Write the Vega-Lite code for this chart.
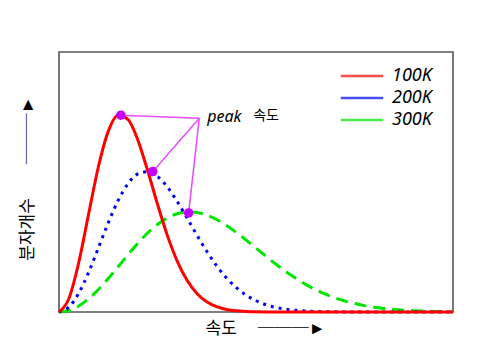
{
  "$schema": "https://vega.github.io/schema/vega-lite/v6.json",
  "width": 394,
  "height": 260,
  "autosize": "none",
  "padding": {"left": 59, "top": 52, "right": 47, "bottom": 45},
  "background": "white",
  "config": {
    "view": {"stroke": "#555555", "strokeWidth": 1.6},
    "axis": {"grid": false, "ticks": false, "labels": false, "domain": false,
             "titleFont": "Noto Sans CJK KR", "titleFontWeight": "normal", "titleFontSize": 17, "titleColor": "#000000"}
  },
  "datasets": {
    "curves": [
      {"T":"100K","v":0,"n":0},{"T":"100K","v":0.25,"n":0.0511},{"T":"100K","v":0.5,"n":0.1893},{"T":"100K","v":0.75,"n":0.3753},
      {"T":"100K","v":1,"n":0.5586},{"T":"100K","v":1.25,"n":0.6948},{"T":"100K","v":1.5,"n":0.757},{"T":"100K","v":1.75,"n":0.7409},
      {"T":"100K","v":2,"n":0.6617},{"T":"100K","v":2.25,"n":0.5441},{"T":"100K","v":2.5,"n":0.4149},{"T":"100K","v":2.75,"n":0.2947},
      {"T":"100K","v":3,"n":0.1958},{"T":"100K","v":3.25,"n":0.1219},{"T":"100K","v":3.5,"n":0.0713},{"T":"100K","v":3.75,"n":0.0392},
      {"T":"100K","v":4,"n":0.0203},{"T":"100K","v":4.25,"n":0.0099},{"T":"100K","v":4.5,"n":0.0046},{"T":"100K","v":4.75,"n":0.002},
      {"T":"100K","v":5,"n":0.0008},{"T":"100K","v":5.5,"n":0.0002},{"T":"100K","v":6,"n":0},{"T":"100K","v":10,"n":0},
      {"T":"200K","v":0,"n":0},{"T":"200K","v":0.25,"n":0.0187},{"T":"200K","v":0.5,"n":0.072},{"T":"200K","v":0.75,"n":0.1519},
      {"T":"200K","v":1,"n":0.2467},{"T":"200K","v":1.25,"n":0.3431},{"T":"200K","v":1.5,"n":0.4287},{"T":"200K","v":1.75,"n":0.4933},
      {"T":"200K","v":2,"n":0.5309},{"T":"200K","v":2.25,"n":0.5394},{"T":"200K","v":2.5,"n":0.5211},{"T":"200K","v":2.75,"n":0.4808},
      {"T":"200K","v":3,"n":0.4251},{"T":"200K","v":3.25,"n":0.3613},{"T":"200K","v":3.5,"n":0.2957},{"T":"200K","v":3.75,"n":0.2334},
      {"T":"200K","v":4,"n":0.1779},{"T":"200K","v":4.25,"n":0.1312},{"T":"200K","v":4.5,"n":0.0936},{"T":"200K","v":4.75,"n":0.0647},
      {"T":"200K","v":5,"n":0.0433},{"T":"200K","v":5.25,"n":0.0281},{"T":"200K","v":5.5,"n":0.0177},{"T":"200K","v":5.75,"n":0.0108},
      {"T":"200K","v":6,"n":0.0064},{"T":"200K","v":6.25,"n":0.0037},{"T":"200K","v":6.5,"n":0.0021},{"T":"200K","v":6.75,"n":0.0011},
      {"T":"200K","v":7,"n":0.0006},{"T":"200K","v":7.5,"n":0.0001},{"T":"200K","v":8,"n":0},{"T":"200K","v":10,"n":0},
      {"T":"300K","v":0,"n":0},{"T":"300K","v":0.25,"n":0.0059},{"T":"300K","v":0.5,"n":0.0232},{"T":"300K","v":0.75,"n":0.0508},
      {"T":"300K","v":1,"n":0.0867},{"T":"300K","v":1.25,"n":0.1287},{"T":"300K","v":1.5,"n":0.1742},{"T":"300K","v":1.75,"n":0.2203},
      {"T":"300K","v":2,"n":0.2642},{"T":"300K","v":2.25,"n":0.3037},{"T":"300K","v":2.5,"n":0.3366},{"T":"300K","v":2.75,"n":0.3616},
      {"T":"300K","v":3,"n":0.3777},{"T":"300K","v":3.25,"n":0.3846},{"T":"300K","v":3.5,"n":0.3828},{"T":"300K","v":3.75,"n":0.3728},
      {"T":"300K","v":4,"n":0.3558},{"T":"300K","v":4.25,"n":0.3331},{"T":"300K","v":4.5,"n":0.3062},{"T":"300K","v":4.75,"n":0.2766},
      {"T":"300K","v":5,"n":0.2457},{"T":"300K","v":5.25,"n":0.2147},{"T":"300K","v":5.5,"n":0.1846},{"T":"300K","v":5.75,"n":0.1564},
      {"T":"300K","v":6,"n":0.1304},{"T":"300K","v":6.25,"n":0.1072},{"T":"300K","v":6.5,"n":0.0868},{"T":"300K","v":6.75,"n":0.0693},
      {"T":"300K","v":7,"n":0.0546},{"T":"300K","v":7.25,"n":0.0424},{"T":"300K","v":7.5,"n":0.0325},{"T":"300K","v":7.75,"n":0.0245},
      {"T":"300K","v":8,"n":0.0183},{"T":"300K","v":8.25,"n":0.0135},{"T":"300K","v":8.5,"n":0.0098},{"T":"300K","v":8.75,"n":0.007},
      {"T":"300K","v":9,"n":0.0049},{"T":"300K","v":9.25,"n":0.0035},{"T":"300K","v":9.5,"n":0.0024},{"T":"300K","v":9.75,"n":0.0016},
      {"T":"300K","v":10,"n":0.0011}
    ]
  },
  "encoding": {
    "x": {"field": "v", "type": "quantitative", "scale": {"domain": [0, 10], "nice": false, "zero": false},
          "axis": {"title": "속도　 ───►", "titlePadding": 8, "titleX": 206}},
    "y": {"field": "n", "type": "quantitative", "scale": {"domain": [0, 1], "nice": false},
          "axis": {"title": "분자개수　　───►", "titlePadding": 23, "titleY": 126}}
  },
  "layer": [
    {
      "data": {"name": "curves"},
      "transform": [{"filter": "datum.T === '300K'"}],
      "mark": {"type": "line", "interpolate": "monotone", "strokeWidth": 3, "clip": false, "strokeDash": [12, 7]},
      "encoding": {
        "color": {"field": "T", "type": "nominal",
                  "scale": {"domain": ["100K", "200K", "300K"], "range": ["#ff0000", "#0000ff", "#00e600"]},
                  "legend": {"title": null, "orient": "none", "legendX": 293, "legendY": 14,
                             "symbolType": "M-2.5,0L2.5,0", "symbolSize": 289, "symbolStrokeWidth": 2.5, "symbolOpacity": 0.7,
                             "labelFont": "Noto Sans", "labelFontStyle": "italic", "labelFontSize": 18, "labelColor": "#000000",
                             "labelOffset": 20, "rowPadding": 3}}
      }
    },
    {
      "data": {"name": "curves"},
      "transform": [{"filter": "datum.T === '200K'"}],
      "mark": {"type": "line", "interpolate": "monotone", "strokeWidth": 3, "clip": false, "strokeDash": [3, 5]},
      "encoding": {
        "color": {"field": "T", "type": "nominal"}
      }
    },
    {
      "data": {"name": "curves"},
      "transform": [{"filter": "datum.T === '100K'"}],
      "mark": {"type": "line", "interpolate": "monotone", "strokeWidth": 3, "clip": false},
      "encoding": {
        "color": {"field": "T", "type": "nominal"}
      }
    },
    {
      "data": {"values": [
        {"v": 3.56, "n": 0.745, "v2": 1.57, "n2": 0.757},
        {"v": 3.56, "n": 0.745, "v2": 2.38, "n2": 0.54},
        {"v": 3.56, "n": 0.745, "v2": 3.29, "n2": 0.381}
      ]},
      "mark": {"type": "rule", "color": "#e64dff", "strokeWidth": 1.5},
      "encoding": {
        "x2": {"field": "v2"},
        "y2": {"field": "n2"}
      }
    },
    {
      "data": {"values": [
        {"v": 1.57, "n": 0.757},
        {"v": 2.38, "n": 0.54},
        {"v": 3.29, "n": 0.381}
      ]},
      "mark": {"type": "point", "filled": true, "size": 90, "color": "#c400ff", "opacity": 1},
      "encoding": {}
    },
    {
      "data": {"values": [{"v": 3.76, "n": 0.75, "label": "peak"}]},
      "mark": {"type": "text", "align": "left", "baseline": "middle", "font": "Noto Sans", "fontStyle": "italic", "fontSize": 16, "color": "#000000"},
      "encoding": {
        "text": {"field": "label"}
      }
    },
    {
      "data": {"values": [{"v": 4.93, "n": 0.755, "label": "속도"}]},
      "mark": {"type": "text", "align": "left", "baseline": "middle", "font": "Noto Sans CJK KR", "fontSize": 14, "color": "#000000"},
      "encoding": {
        "text": {"field": "label"}
      }
    }
  ]
}
